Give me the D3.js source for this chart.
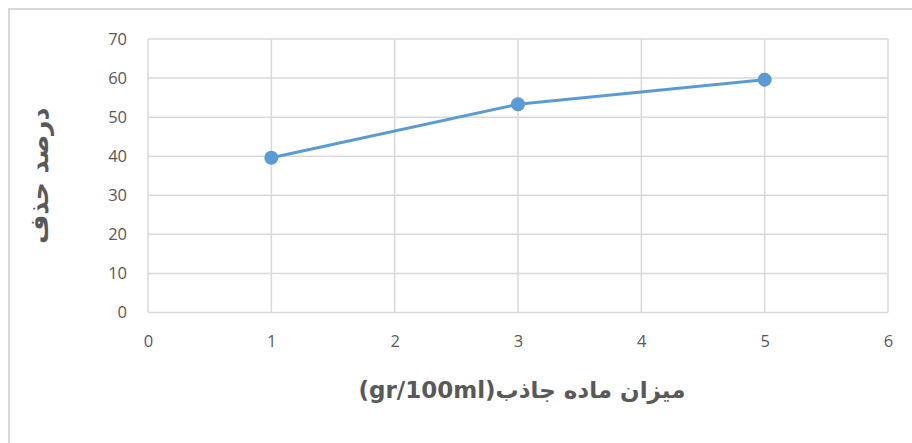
<!DOCTYPE html>
<html>
<head>
<meta charset="utf-8">
<script src="https://cdn.jsdelivr.net/npm/d3@7"></script>
<style>
  html, body { margin: 0; padding: 0; background: #fff; }
  svg { display: block; }
</style>
</head>
<body>
<svg id="chart" width="912" height="443"></svg>
<script>
// Adsorbent dose (gr/100ml) versus removal percentage
const doses = [1, 3, 5];
const removal = [39.6, 53.3, 59.6];
const xTicks = [0, 1, 2, 3, 4, 5, 6];
const yTicks = [0, 10, 20, 30, 40, 50, 60, 70];
const xTitle = "میزان ماده جاذب(gr/100ml)";
const yTitle = "درصد حذف";

const svg = d3.select("#chart");
const W = 912, H = 443;
const plot = { left: 148, right: 888, top: 39, bottom: 312.5 };

const x = d3.scaleLinear().domain([0, 6]).range([plot.left, plot.right]);
const y = d3.scaleLinear().domain([0, 70]).range([plot.bottom, plot.top]);

const gridColor = "#d9d9d9";
const textColor = "#595959";
const tickFont = "'Open Sans', 'Liberation Sans', sans-serif";

// outer chart frame
svg.append("rect")
  .attr("x", 9).attr("y", 9)
  .attr("width", W + 20).attr("height", H + 20)
  .attr("fill", "#fff")
  .attr("stroke", gridColor).attr("stroke-width", 2);

// horizontal gridlines
svg.append("g")
  .selectAll("line")
  .data(yTicks)
  .join("line")
  .attr("x1", plot.left).attr("x2", plot.right)
  .attr("y1", d => y(d)).attr("y2", d => y(d))
  .attr("stroke", gridColor).attr("stroke-width", 1.5);

// vertical gridlines
svg.append("g")
  .selectAll("line")
  .data(xTicks)
  .join("line")
  .attr("y1", plot.top).attr("y2", plot.bottom)
  .attr("x1", d => x(d)).attr("x2", d => x(d))
  .attr("stroke", gridColor).attr("stroke-width", 1.5);

// axes: labels only, the gridlines act as the axis lines
const yAxis = d3.axisLeft(y).tickValues(yTicks).tickFormat(d3.format("d")).tickSize(0).tickPadding(21);
const gy = svg.append("g").attr("transform", `translate(${plot.left},0)`).call(yAxis);
gy.select(".domain").remove();
gy.selectAll("text")
  .attr("fill", textColor)
  .style("font-family", tickFont)
  .style("font-size", "16.5px");

const xAxis = d3.axisBottom(x).tickValues(xTicks).tickFormat(d3.format("d")).tickSize(0).tickPadding(23);
const gx = svg.append("g").attr("transform", `translate(0,${plot.bottom})`).call(xAxis);
gx.select(".domain").remove();
gx.selectAll("text")
  .attr("fill", textColor)
  .style("font-family", tickFont)
  .style("font-size", "16.5px");

// data series
const pts = doses.map((d, i) => [d, removal[i]]);
svg.append("path")
  .datum(pts)
  .attr("fill", "none")
  .attr("stroke", "#5b9bd5")
  .attr("stroke-width", 3)
  .attr("stroke-linejoin", "round")
  .attr("d", d3.line().x(d => x(d[0])).y(d => y(d[1])));

svg.append("g")
  .selectAll("circle")
  .data(pts)
  .join("circle")
  .attr("cx", d => x(d[0]))
  .attr("cy", d => y(d[1]))
  .attr("r", 7)
  .attr("fill", "#5b9bd5");

// axis titles
svg.append("text")
  .attr("x", 522)
  .attr("y", 398)
  .attr("text-anchor", "middle")
  .attr("direction", "rtl")
  .attr("fill", textColor)
  .style("font-family", "'DejaVu Sans', sans-serif")
  .style("font-weight", "bold")
  .style("font-size", "23px")
  .text(xTitle);

svg.append("text")
  .attr("transform", `translate(48,${(plot.top + plot.bottom) / 2}) rotate(-90)`)
  .attr("text-anchor", "middle")
  .attr("direction", "rtl")
  .attr("fill", textColor)
  .style("font-family", "'DejaVu Sans', sans-serif")
  .style("font-weight", "bold")
  .style("font-size", "25px")
  .text(yTitle);
</script>
</body>
</html>
